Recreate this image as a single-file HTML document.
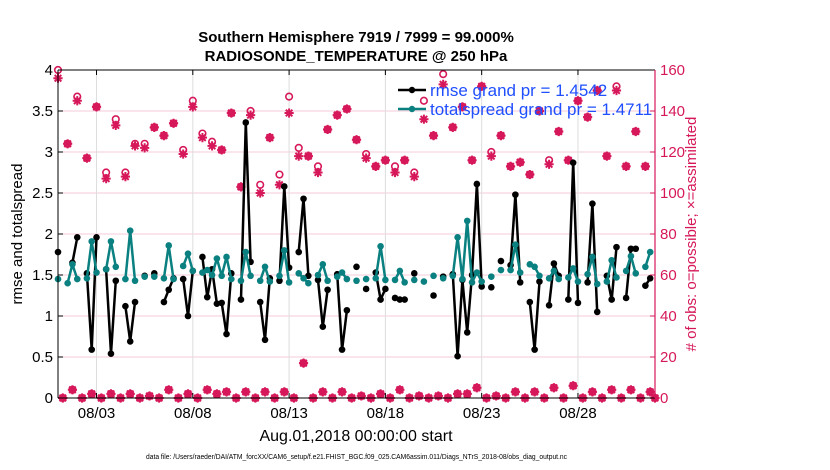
<!DOCTYPE html>
<html><head><meta charset="utf-8"><style>
html,body{margin:0;padding:0;background:#fff;}
svg{display:block;font-family:"Liberation Sans",Arial,sans-serif;}
</style></head><body>
<svg id="chart" width="830" height="470" viewBox="0 0 830 470">
<text x="356" y="42" text-anchor="middle" font-size="15" font-weight="bold">Southern Hemisphere 7919 / 7999 = 99.000%</text>
<text x="356" y="61" text-anchor="middle" font-size="15" font-weight="bold">RADIOSONDE_TEMPERATURE @ 250 hPa</text>
<g id="grid"></g>
<g id="obs"></g>
<g id="lines"></g>
<g id="axes"></g>
<text transform="translate(22,234) rotate(-90)" text-anchor="middle" font-size="15">rmse and totalspread</text>
<text transform="translate(696,234) rotate(-90)" text-anchor="middle" font-size="15" fill="#d6185a"># of obs: o=possible; ×=assimilated</text>
<text x="356" y="441" text-anchor="middle" font-size="16">Aug.01,2018 00:00:00 start</text>
<text x="146" y="459" font-size="7" textLength="421" lengthAdjust="spacingAndGlyphs">data file: /Users/raeder/DAI/ATM_forcXX/CAM6_setup/f.e21.FHIST_BGC.f09_025.CAM6assim.011/Diags_NTrS_2018-08/obs_diag_output.nc</text>
<g>
<line x1="398" y1="90" x2="426" y2="90" stroke="#000" stroke-width="2.5"/>
<circle cx="412" cy="90" r="3.2" fill="#000"/>
<text x="430" y="96" font-size="17" fill="#1f4fff">rmse grand pr = 1.4542</text>
<line x1="398" y1="109" x2="426" y2="109" stroke="#0a8080" stroke-width="2.5"/>
<circle cx="412" cy="109" r="3.2" fill="#0a8080"/>
<text x="430" y="115" font-size="17" fill="#1f4fff">totalspread grand pr = 1.4711</text>
</g>
</svg>
<script>
const xTickLabels = ["08/03","08/08","08/13","08/18","08/23","08/28"];
const xTickDays = [2,7,12,17,22,27];
const yLeftTicks = [0,0.5,1,1.5,2,2.5,3,3.5,4];
const yRightTicks = [0,20,40,60,80,100,120,140,160];
const rmse = [1.78,null,null,1.65,1.96,null,1.52,0.59,1.96,null,
1.57,0.54,1.43,null,1.12,0.69,1.17,null,1.49,null,
1.52,null,1.17,1.32,1.46,null,1.45,1.0,1.55,null,
1.72,1.23,1.57,1.15,1.16,0.78,1.52,null,1.2,3.36,
1.66,null,1.17,0.71,1.46,null,1.43,2.58,1.59,null,
1.78,2.43,1.49,null,1.44,0.87,1.32,null,1.51,0.59,
1.07,null,1.6,null,1.33,null,1.53,1.2,1.33,null,
1.22,1.2,1.2,null,1.52,null,null,null,1.25,null,
1.48,null,1.51,0.51,1.44,0.80,1.5,2.61,1.36,null,
1.35,null,1.67,null,1.62,2.48,1.41,null,1.17,0.59,
1.42,null,1.13,1.64,1.49,null,1.2,2.87,1.16,null,
1.41,2.37,1.05,null,1.49,1.2,1.84,null,1.22,1.82,
1.82,null,1.37,1.46,null];
const spread = [1.45,null,1.40,1.63,1.45,null,1.46,1.91,1.53,null,
1.57,1.91,1.6,null,1.45,2.04,1.43,null,1.48,null,
1.48,null,1.46,1.86,1.45,null,1.61,1.76,1.55,null,
1.53,1.56,1.5,1.70,1.49,1.72,1.45,null,1.43,1.78,
1.49,null,1.43,1.6,1.42,null,1.49,1.80,1.41,null,
1.52,1.46,1.40,null,1.5,1.63,1.43,null,1.48,1.53,
1.45,null,1.43,null,1.45,null,1.46,1.85,1.44,null,
1.44,1.55,1.41,null,1.44,null,1.42,null,1.49,null,
1.46,null,1.49,1.96,1.45,2.16,1.41,1.53,1.42,null,
1.48,null,1.56,null,1.56,1.87,1.53,null,1.63,1.6,
1.49,null,1.46,1.55,1.45,null,1.47,1.58,1.42,null,
1.51,1.72,1.39,null,1.42,1.68,1.47,null,1.55,1.73,
1.52,null,1.6,1.78,null];
const possible = [160,0,124,4,147,0,117,2,142,0,
110,2,136,0,110,2,124,0,124,1,
132,0,128,4,134,0,121,2,145,0,
129,4,125,2,121,3,139,0,103,3,
140,0,104,3,127,0,109,3,147,0,
122,17,118,0,113,3,131,0,138,3,
141,0,126,1,119,0,113,2,116,0,
113,4,116,0,110,1,145,0,128,1,
158,0,132,2,142,2,116,5,152,0,
120,1,128,0,113,3,115,0,109,3,
140,0,116,5,130,0,116,6,145,0,
137,3,150,0,118,4,152,0,113,4,
130,0,113,3,0];
const assimilated = [156,0,124,4,145,0,117,2,142,0,
107,2,133,0,108,2,123,0,122,1,
132,0,128,4,134,0,119,2,142,0,
127,4,123,2,121,3,139,0,103,3,
138,0,100,3,127,0,104,3,139,0,
118,17,118,0,110,3,131,0,138,3,
141,0,126,1,117,0,113,2,116,0,
110,4,116,0,108,1,136,0,128,1,
153,0,132,2,142,2,116,5,152,0,
118,1,128,0,113,3,115,0,109,3,
140,0,114,5,130,0,116,6,145,0,
137,3,150,0,118,4,150,0,113,4,
130,0,113,3,0];

const NS="http://www.w3.org/2000/svg";
const L=58,R=655,T=70,B=398;
const CRIM="#d6185a", TEAL="#0a8080";
function xAt(j){return L + j*(R-L)/124;}
function xDay(d){return L + d*(R-L)/31;}
function yL(v){return B - v*(B-T)/4;}
function yR(c){return B - c*(B-T)/160;}
function mk(tag,attrs,parent){const e=document.createElementNS(NS,tag);for(const k in attrs)e.setAttribute(k,attrs[k]);parent.appendChild(e);return e;}

const grid=document.getElementById('grid');
const axes=document.getElementById('axes');
const obs=document.getElementById('obs');
const lines=document.getElementById('lines');

yRightTicks.forEach((t,i)=>{
  const y=yR(t);
  if(t>0&&t<160){const g=mk('line',{x1:L,x2:R,y1:y,y2:y,stroke:'#f5cbd9','stroke-width':1},grid);
  
  }
  mk('line',{x1:R-5,x2:R,y1:y,y2:y,stroke:CRIM,'stroke-width':1},axes);
  const tx=mk('text',{x:R+5,y:y+5,'font-size':15,fill:CRIM},axes);
  tx.textContent=t;
  
  
});
yLeftTicks.forEach(t=>{
  const y=yL(t);
  mk('line',{x1:L,x2:L+5,y1:y,y2:y,stroke:'#000','stroke-width':1},axes);
  const tx=mk('text',{x:L-5,y:y+5,'font-size':15,'text-anchor':'end'},axes);
  tx.textContent=String(t);
  
  
});
xTickDays.forEach((d,i)=>{
  const x=xDay(d);
  const g=mk('line',{x1:x,x2:x,y1:T,y2:B,stroke:'#dddddd','stroke-width':1},grid);
  
  
  mk('line',{x1:x,x2:x,y1:B,y2:B-5,stroke:'#000'},axes);
  mk('line',{x1:x,x2:x,y1:T,y2:T+5,stroke:'#000'},axes);
  const tx=mk('text',{x:x,y:B+20,'font-size':15,'text-anchor':'middle'},axes);
  tx.textContent=xTickLabels[i];
  
  
});
mk('line',{x1:L,x2:R,y1:T,y2:T,stroke:'#000','stroke-width':1},axes);
mk('line',{x1:L,x2:R,y1:B,y2:B,stroke:'#000','stroke-width':1},axes);
mk('line',{x1:L,x2:L,y1:T,y2:B,stroke:'#000','stroke-width':1},axes);
mk('line',{x1:R,x2:R,y1:T,y2:B,stroke:CRIM,'stroke-width':1.2},axes);

possible.forEach((c,j)=>{
  if(c==null)return;
  const m=mk('circle',{cx:xAt(j),cy:yR(c),r:3.3,fill:'none',stroke:CRIM,'stroke-width':1.6},obs);
  
  
});
assimilated.forEach((c,j)=>{
  if(c==null)return;
  const x=xAt(j),y=yR(c),r=4.6,d=3.3;
  const p=mk('path',{d:`M${x-r},${y}H${x+r}M${x},${y-r}V${y+r}M${x-d},${y-d}L${x+d},${y+d}M${x-d},${y+d}L${x+d},${y-d}`,stroke:CRIM,'stroke-width':2,fill:'none'},obs);
  
  
});

function drawSeries(arr,color,name){
  let d='';let pen=false;
  arr.forEach((v,j)=>{
    if(v==null){pen=false;return;}
    d+=(pen?'L':'M')+xAt(j).toFixed(1)+','+yL(v).toFixed(1);pen=true;
  });
  const p=mk('path',{d:d,stroke:color,'stroke-width':2.5,fill:'none','stroke-linejoin':'round'},lines);
  
  
  arr.forEach((v,j)=>{
    if(v==null)return;
    const c=mk('circle',{cx:xAt(j),cy:yL(v),r:3.3,fill:color},lines);
    
    
  });
}
drawSeries(rmse,'#000','rmse');
drawSeries(spread,TEAL,'totalspread');
</script>
</body></html>
